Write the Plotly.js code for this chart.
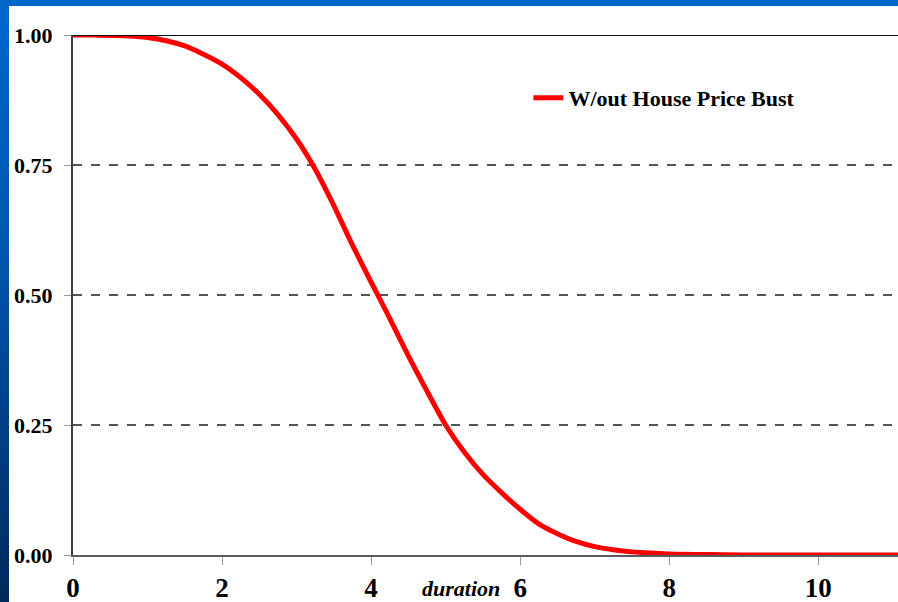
<!DOCTYPE html>
<html>
<head>
<meta charset="utf-8">
<script src="https://cdn.plot.ly/plotly-3.0.1.min.js"></script>
<style>
html,body{margin:0;padding:0;}
#wrap{position:relative;width:898px;height:602px;overflow:hidden;
  background:linear-gradient(180deg,#0066cc 0%,#0058b0 40%,#003c80 75%,#002a5c 100%);}
#white{position:absolute;left:9px;top:6px;right:0;bottom:0;background:#ffffff;}
#chart{position:absolute;left:0;top:0;width:898px;height:602px;}
</style>
</head>
<body>
<div id="wrap"><div id="white"></div><div id="chart"></div></div>
<script>
// data
const duration = [0,0.25,0.5,0.75,1,1.25,1.5,1.75,2,2.25,2.5,2.75,3,3.25,3.5,3.75,4,4.25,4.5,4.75,5,5.25,5.5,5.75,6,6.25,6.5,6.75,7,7.25,7.5,7.75,8,8.5,9,10,11.1];
const survival = [1.000,1.000,0.999,0.998,0.995,0.989,0.979,0.963,0.944,0.918,0.886,0.847,0.800,0.742,0.672,0.596,0.525,0.455,0.383,0.315,0.250,0.198,0.155,0.120,0.088,0.060,0.041,0.026,0.016,0.010,0.006,0.004,0.002,0.001,0,0,0];
const seriesName = "W/out House Price Bust";
const xTicks = [0,2,4,6,8,10];
const yTicks = [0,0.25,0.5,0.75,1];
const yTickText = ["0.00","0.25","0.50","0.75","1.00"];
const xTitle = "duration";

const serif = "Liberation Serif, Times New Roman, serif";
const trace = {
  x: duration, y: survival, type: "scatter", mode: "lines", name: "<b>" + seriesName + "</b>",
  line: {color: "#ff0000", width: 5, shape: "spline", smoothing: 0.6}
};
const layout = {
  width: 898, height: 602,
  margin: {l: 73, r: 0, t: 35, b: 47, pad: 0},
  paper_bgcolor: "rgba(0,0,0,0)", plot_bgcolor: "rgba(0,0,0,0)",
  showlegend: true,
  legend: {x: 0.552, y: 0.879, xanchor: "left", yanchor: "middle",
    bgcolor: "rgba(0,0,0,0)", font: {family: serif, size: 22, color: "#000"},
    itemwidth: 30, tracegroupgap: 0},
  xaxis: {
    range: [0, 11.07], tickvals: xTicks, ticktext: xTicks.map(v => "<b>" + v + "</b>"),
    showgrid: false, zeroline: false, showline: true, linecolor: "#5a5a5a", linewidth: 2,
    ticks: "outside", ticklen: 8, tickwidth: 1, tickcolor: "#999",
    tickfont: {family: serif, size: 27, color: "#000"},
    ticklabelstandoff: 0
  },
  yaxis: {
    range: [0, 1], tickvals: yTicks, ticktext: yTickText.map(v => "<b>" + v + "</b>"),
    showgrid: true, gridcolor: "#555", griddash: "dash", gridwidth: 1.5,
    zeroline: false, showline: true, linecolor: "#404040", linewidth: 2,
    ticks: "outside", ticklen: 7, tickwidth: 1, tickcolor: "#999",
    tickfont: {family: serif, size: 22, color: "#000"},
    ticklabelstandoff: 7
  },
  shapes: [
    {type: "line", xref: "paper", yref: "y", x0: 0, x1: 1, y0: 1, y1: 1,
     line: {color: "#111", width: 2}}
  ],
  annotations: [
    {text: "<b><i>" + xTitle + "</i></b>", xref: "x", yref: "paper", x: 5.21, y: -0.064,
     showarrow: false, xanchor: "center", yanchor: "middle",
     font: {family: serif, size: 22, color: "#000"}}
  ]
};
Plotly.newPlot("chart", [trace], layout, {displayModeBar: false, staticPlot: true});
</script>
</body>
</html>
